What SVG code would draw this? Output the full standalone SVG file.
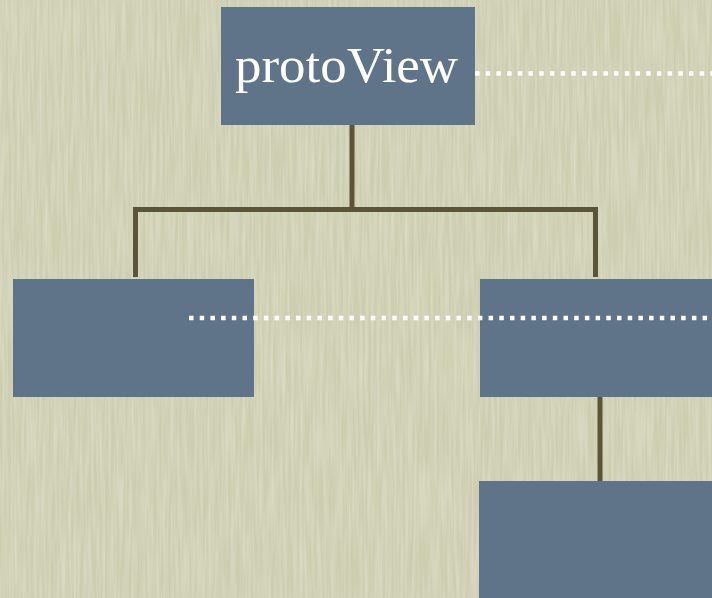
<svg xmlns="http://www.w3.org/2000/svg" width="712" height="598" viewBox="0 0 712 598">
  <defs>
    <filter id="paper" x="0" y="0" width="100%" height="100%">
      <feTurbulence type="fractalNoise" baseFrequency="0.35 0.015" numOctaves="2" seed="3" result="n"/>
      <feColorMatrix in="n" type="matrix" values="0 0 0 0 1  0 0 0 0 1  0 0 0 0 0.92  0 0 0 0.45 -0.14" result="streaks"/>
      <feComposite in="streaks" in2="SourceGraphic" operator="atop"/>
    </filter>
    <style>
      .bg { fill: #cdcdb0; }
      .box { fill: #5f7389; }
      .tree { stroke: #5a5539; stroke-width: 5; fill: none; stroke-linecap: butt; }
      .dots { stroke: #ffffff; stroke-width: 4.5; fill: none; stroke-dasharray: 4.5 6.2; }
      .label { font-family: "Liberation Serif", "DejaVu Serif", serif; font-size: 51px; fill: #ffffff; }
    </style>
  </defs>

  <rect class="bg" x="0" y="0" width="712" height="598" filter="url(#paper)"/>

  <g id="connectors">
    <path class="tree" d="M352 125 V209.5"/>
    <path class="tree" d="M135.5 277 V209.5 H595.5 V277"/>
    <path class="tree" d="M600 397 V481"/>
    <path class="dots" d="M475 73.5 H712"/>
  </g>

  <g id="node-protoView">
    <rect class="box" x="221" y="7" width="254" height="118"/>
    <text class="label" x="235" y="82" textLength="223" lengthAdjust="spacingAndGlyphs">protoView</text>
  </g>

  <g id="node-left">
    <rect class="box" x="13" y="279" width="241" height="118"/>
  </g>

  <g id="node-right">
    <rect class="box" x="480" y="279" width="232" height="118"/>
  </g>

  <g id="node-bottom">
    <rect class="box" x="479" y="481" width="233" height="117"/>
  </g>

  <g id="connector-dotted">
    <path class="dots" d="M189 318 H712"/>
  </g>
</svg>
